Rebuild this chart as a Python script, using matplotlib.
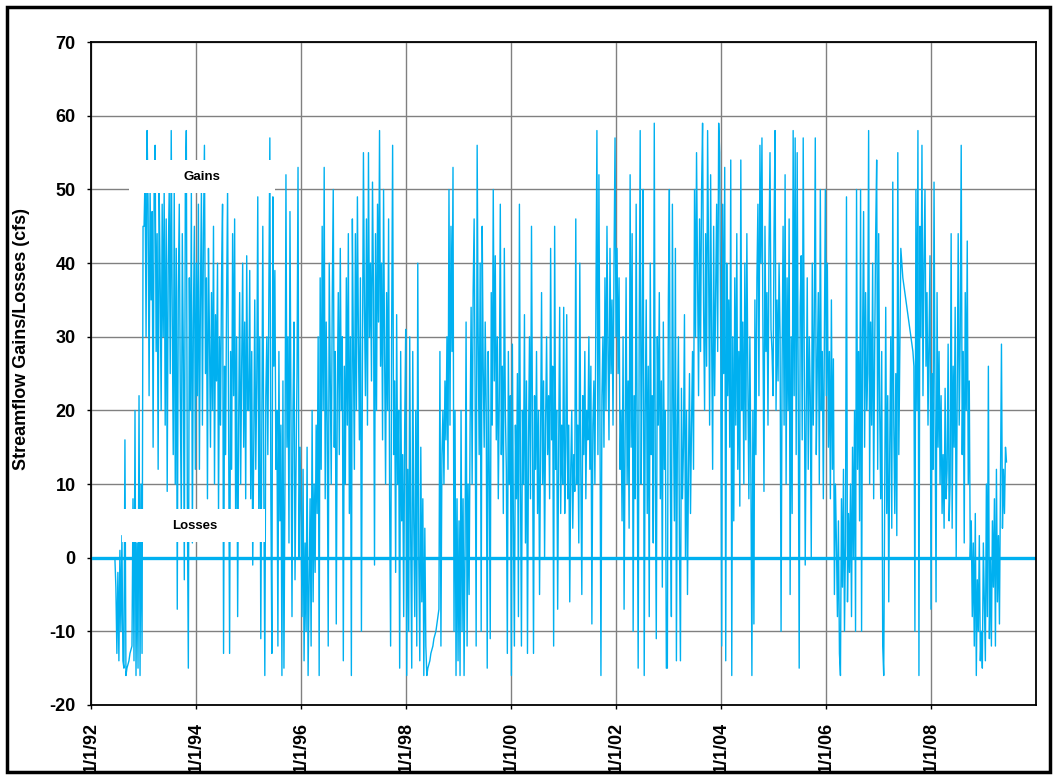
import numpy as np
import pandas as pd
import matplotlib
matplotlib.use('Agg')
import matplotlib.pyplot as plt
import matplotlib.dates as mdates
from matplotlib.patches import Rectangle
from matplotlib.transforms import blended_transform_factory

plt.rcParams['font.family'] = ['Liberation Sans', 'DejaVu Sans']
plt.rcParams['axes.unicode_minus'] = False

# Weekly streamflow gains/losses (cfs), one list per year
flow_1992 = [0, -4, -13, -2, -14, 1, -10, 3, -14,
             -15, 16, -16, -15, -14.5, -14, -13, -12.5, -12,
             8, -14, 20, -16, 2, -15, 22, -16, 10, -13, 45]
flow_1993 = [45, 52, 30, 58, 48, 22, 50, 35, 47, 15,
             50, 56, 28, 44, 12, 50, 38, 20, 48, 30,
             50, 18, 46, 9, 40, 50, 25, 58, 33, 14,
             50, 10, 42, -7, 36, 48, 22, 5, 44, 28,
             -3, 50, 58, 8, -15, 38, 20, 50, 2, 32, 45, 12]
flow_1994 = [40, 22, 48, 12, 35, 50, 18, 44, 56, 25,
             38, 8, 42, 30, 15, 36, 20, 45, 10, 33,
             24, 40, 6, 30, 18, 38, 48, -13, 26, 14,
             35, 50, 20, -13, 28, 12, 44, 22, 46, 5,
             30, -8, 18, 36, 10, 26, 40, 15, 32, 8, 41, 20]
flow_1995 = [20, 39, 8, 28, -1, 15, 35, 12, 24, 49, 6, 30, -11, 18, 45, 10, -16,
             22, 30, 14, 35, 57, 8, -13, 49, 26, 39, 12, 20, -12, 28, 5, 18, -16,
             24, -15, 10, 52, 15, 30, 2, 47, 18, -8, 20, 32, -3, 12, 25, 53, 0, 15]
flow_1996 = [5, -8, 12, -14, 2, -10, 15, -16, -4, 8, -12, 20, -6, 10, -2, 18, 6,
             30, -16, 38, 12, 45, 20, 53, 8, 32, 18, -12, 40, 25, 10, 35, 50, 15, 28,
             -9, 22, 36, 14, 42, 20, 30, -14, 26, 10, 38, 18, 44, 6, 30, -16, 46]
flow_1997 = [28, 12, 44, 20, 49, 30, 16, 38, -10, 26, 55, 34, 22, 46, 18, 55, 30, 40,
             24, 51, 36, -1, 44, 20, 48, 32, 58, 26, 40, 16, 50, 28, 10, 36, 20,
             46, 8, -12, 30, 56, 14, 24, -2, 33, 10, 20, -15, 28, 5, 14, -8, 18]
flow_1998 = [31, -16, 12, -10, 30, 2, -15, 28, 5, -8, 20, -12, 40, 0, -14, 15, -6, 8, -16, 4, -12,
             -16, -15, -14.5, -14, -13, -12.5, -12, -11, -10.5, -10, -9, -8, -7,
             28, -12, 14, 20, 10, 24, 16, 30, 12, 50, 18, 45, 28, 53, -10, 20, -16, 8]
flow_1999 = [-14, 5, -16, 20, -10, 8, -16, 2, 32, -12, 10, -5, 18,
             34, 10, 36, 46, 22, -12, 56, 30, 14, 40, -10, 45, 26,
             15, 32, 20, -15, 28, 12, -11, 36, 18, 50, 24, 41, 16,
             30, 8, 22, 48, 14, 26, 6, 42, 20, 12, -13, 28, 10]
flow_2000 = [22, -16, 29, 5, -12, 18, 8, 25, -8, 48, 12, -12, 20,
             10, 33, 2, 24, -13, 15, 30, 8, 45, 18, -13, 22, 12,
             28, 6, 20, -5, 16, 36, 10, 24, 0, 18, 30, 14, 22,
             8, 42, 16, 26, -12, 45, 12, 20, -7, 15, 34, 6, 18]
flow_2001 = [10, 34, 6, 15, 33, 8, 18, -6, 12, 20, 4, 14, 9,
             46, 10, 18, 2, 40, 12, -5, 22, 14, 28, 8, 20, 16,
             30, 12, 26, -9, 18, 24, 10, 35, 58, 14, 52, 20, -16,
             22, 30, 15, 38, 20, 45, 28, 16, 42, 25, 35, 18, 40]
flow_2002 = [57, 30, 42, 25, 38, 12, 20, 5, 30, -7, 16, 38, 10,
             24, 4, 52, 15, 44, -10, 22, 8, 48, 18, -15, 30, 58,
             10, 28, 50, -16, 20, 35, 6, 26, -8, 40, 14, 22, 2,
             59, 12, -11, 30, 18, 36, 8, 24, -4, 32, 12, 20, -15]
flow_2003 = [-15, 35, 50, 10, -8, 48, 20, 5, 42, -14, 18, 30, 2,
             -14, 23, 8, 15, 33, 0, 20, -5, 12, 25, 6, 18, 28,
             12, 50, 30, 55, 38, 22, 46, 28, 50, 59, 34, 20, 44,
             26, 58, 40, 18, 52, 30, 12, 45, 22, 36, 48, 28, 59]
flow_2004 = [55, 30, -12, 48, 25, 53, -14, 40, 22, 35, 15, 54, -16,
             30, 5, 38, 18, 44, 12, 28, 7, 54, 20, 32, 10, 40,
             16, 44, 24, 8, 30, 12, -16, 20, -9, 35, 14, 38, 48,
             22, 56, 40, 57, 30, 9, 45, 28, 36, 18, 42, 55, 31]
flow_2005 = [28, 22, 44, 58, 20, 35, 24, 40, 30, -10, 26, 45, 18,
             52, 10, 38, 20, 46, -5, 30, 6, 58, 22, 57, 14, 55,
             24, -15, 34, 41, 16, 57, 28, -1, 20, 38, 12, 30, 22,
             0, 40, 18, 32, 57, 14, 26, 36, 10, 50, 20, 28, 8]
flow_2006 = [30, 50, 22, 40, 15, 28, 8, 35, 12, 27, -5, 10, 2,
             -8, 5, -13, -16, 8, -4, 12, -10, 2, 49, -6, 6, -2,
             10, -8, 15, 0, 20, -10, 50, 12, 28, 5, 50, -10, 30,
             47, 15, 36, 20, 25, 58, 10, 32, 18, 40, 8, 28, 44]
flow_2007 = [54, 12, 44, 20, 8, 28, -12, -16, 10, 34, 6, 22, -6,
             15, 30, 4, 51, 18, 6, 25, 3, 55, 14, 28, 42, 40,
             38, 37, 36, 35, 34, 33, 32, 31, 30, 29, 28, 26, -10,
             50, 20, 58, -16, 45, 30, 56, 22, 40, 50, 26, 36, 18]
flow_2008 = [30, 41, -7, 25, 12, 51, 20, -6, 36, 15, 28, 10, 22,
             6, 14, 4, 23, 8, 12, 29, 5, 10, 44, 4, 26, 15,
             34, 0, 22, 44, 18, 30, 56, 14, 28, 2, 36, 20, 43,
             10, 24, 0, 5, -8, 2, -12, 6, -16, -3, -10, 3, -14]
flow_2009 = [-10, -15, 2, -6, -14, 10, -8, 26, -11, 0, -12, 5, -4,
             8, -12, 12, -6, 3, -9, 10, 29, 4, 12, 6, 15, 13]

flow = (flow_1992 + flow_1993 + flow_1994 + flow_1995 + flow_1996 + flow_1997
        + flow_1998 + flow_1999 + flow_2000 + flow_2001 + flow_2002 + flow_2003
        + flow_2004 + flow_2005 + flow_2006 + flow_2007 + flow_2008 + flow_2009)
dates = pd.date_range('1992-06-15', periods=len(flow), freq='7D')

blue = '#00B0F0'

fig = plt.figure(figsize=(10.57, 7.77), dpi=100)
ax = fig.add_axes([0.0861, 0.0927, 0.894, 0.853])

ax.plot(dates, flow, color=blue, lw=1.0, zorder=2)
ax.axhline(0, color=blue, lw=2.4, zorder=2.5)

ax.set_xlim(pd.Timestamp('1992-01-01'), pd.Timestamp('2009-12-30'))
ax.set_ylim(-20, 70)
ax.set_yticks(np.arange(-20, 71, 10))
ax.xaxis.set_major_locator(mdates.YearLocator(2))
ax.xaxis.set_major_formatter(plt.FuncFormatter(
    lambda v, pos: '{d.month}/{d.day}/{y}'.format(d=mdates.num2date(v), y=mdates.num2date(v).strftime('%y'))))

ax.grid(True, color='#808080', lw=1.0, zorder=1)
ax.set_axisbelow(True)
for s in ax.spines.values():
    s.set_color('black')
    s.set_linewidth(1.3)
ax.tick_params(axis='both', direction='out', length=3, width=1, labelsize=13)
ax.tick_params(axis='y', pad=8)
ax.tick_params(axis='x', pad=9, labelrotation=90)
for lab in ax.get_xticklabels() + ax.get_yticklabels():
    lab.set_fontweight('bold')

ax.set_ylabel('Streamflow Gains/Losses (cfs)', fontsize=13, fontweight='bold')
ax.yaxis.set_label_coords(-0.0646, 0.552)

# white label boxes sitting on top of the series
trans = blended_transform_factory(ax.transAxes, ax.transData)
ax.add_patch(Rectangle((0.040, 49.5), 0.155, 4.5, transform=trans,
                       facecolor='white', edgecolor='none', zorder=3))
ax.text(0.1175, 51.7, 'Gains', transform=trans, ha='center', va='center',
        fontsize=9.5, fontweight='bold', zorder=4)
ax.add_patch(Rectangle((0.033, 2.1), 0.151, 4.5, transform=trans,
                       facecolor='white', edgecolor='none', zorder=3))
ax.text(0.110, 4.3, 'Losses', transform=trans, ha='center', va='center',
        fontsize=9.5, fontweight='bold', zorder=4)

# outer frame round the whole figure
fig.patches.append(Rectangle((0.0066, 0.006), 0.987, 0.985, transform=fig.transFigure,
                             fill=False, edgecolor='black', lw=2.5))

fig.savefig('out.png', dpi=100)
